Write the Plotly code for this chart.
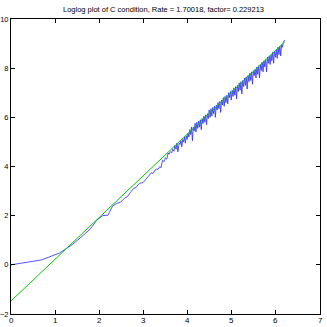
import plotly.graph_objects as go

# fitted line (green): two end points
fit_x = [0.0, 6.2]
fit_y = [-1.47, 9.07]

blue_x = [0.0, 0.693, 1.099, 1.386, 1.609, 1.792, 1.946, 2.079, 2.197, 2.303,
          2.398, 2.485, 2.565, 2.639, 2.708, 2.773, 2.833, 2.890, 2.944, 2.996,
          3.04, 3.09, 3.14, 3.18, 3.22, 3.26, 3.30, 3.33, 3.37, 3.40,
          3.43, 3.47, 3.50, 3.53, 3.56, 3.58, 3.61, 3.64, 3.66, 3.69,
          3.71, 3.74, 3.76, 3.78, 3.81, 3.83, 3.85, 3.87, 3.89, 3.91,
          3.93, 3.95, 3.97, 3.99,
          4.01, 4.03, 4.05, 4.07, 4.09, 4.11, 4.13, 4.15, 4.17, 4.19,
          4.21, 4.23, 4.25, 4.27, 4.29, 4.31, 4.33, 4.35, 4.37, 4.39,
          4.41, 4.43, 4.45, 4.47, 4.49, 4.51, 4.53, 4.55, 4.57, 4.59,
          4.61, 4.63, 4.65, 4.67, 4.69, 4.71, 4.73, 4.75, 4.77, 4.79,
          4.81, 4.83, 4.85, 4.87, 4.89, 4.91, 4.93, 4.95, 4.97, 4.99,
          5.01, 5.03, 5.05, 5.07, 5.09, 5.11, 5.13, 5.15, 5.17, 5.19,
          5.21, 5.23, 5.25, 5.27, 5.29, 5.31, 5.33, 5.35, 5.37, 5.39,
          5.41, 5.43, 5.45, 5.47, 5.49, 5.51, 5.53, 5.55, 5.57, 5.59,
          5.61, 5.63, 5.65, 5.67, 5.69, 5.71, 5.73, 5.75, 5.77, 5.79,
          5.81, 5.83, 5.85, 5.87, 5.89, 5.91, 5.93, 5.95, 5.97, 5.99,
          6.01, 6.03, 6.05, 6.07, 6.09, 6.11, 6.13, 6.15, 6.17, 6.19, 6.20]
blue_y = [0.0, 0.2, 0.48, 0.82, 1.16, 1.45, 1.82, 2.0, 2.02, 2.4,
          2.5, 2.55, 2.7, 2.78, 2.95, 3.1, 3.15, 3.28, 3.33, 3.35,
          3.45, 3.55, 3.65, 3.75, 3.72, 3.85, 3.9, 3.88, 4.0, 3.95,
          4.25, 4.2, 4.35, 4.3, 4.55, 4.5, 4.6, 4.55, 4.7, 4.62,
          4.85, 4.7, 4.95, 4.6, 4.95, 4.9, 5.05, 4.8, 5.1, 5.0,
          5.2, 4.95, 5.25, 5.1,
          5.35, 5.2, 5.5, 5.3, 5.6, 5.05, 5.6, 5.45, 5.75, 5.4,
          5.8, 5.55, 5.85, 5.6, 5.9, 5.5, 5.95, 5.75, 6.05, 5.8,
          6.1, 5.7, 6.15, 5.95, 6.3, 6.0, 6.35, 6.05, 6.4, 6.15,
          6.45, 6.0, 6.5, 6.3, 6.6, 6.35, 6.65, 6.2, 6.7, 6.5,
          6.8, 6.45, 6.85, 6.6, 6.9, 6.55, 7.0, 6.8, 7.05, 6.7,
          7.1, 6.85, 7.2, 6.9, 7.25, 6.75, 7.3, 7.05, 7.4, 7.1,
          7.45, 6.95, 7.5, 7.25, 7.6, 7.3, 7.65, 7.15, 7.7, 7.45,
          7.8, 7.5, 7.85, 7.35, 7.9, 7.7, 7.95, 7.6, 8.05, 7.75,
          8.1, 7.6, 8.15, 7.9, 8.25, 7.85, 8.3, 8.05, 8.35, 7.85,
          8.45, 8.2, 8.5, 8.15, 8.55, 8.3, 8.65, 8.2, 8.7, 8.45,
          8.75, 8.4, 8.85, 8.55, 8.9, 8.5, 8.95, 8.85, 9.05, 9.1, 9.15]

x_ticks = [0, 1, 2, 3, 4, 5, 6, 7]
y_ticks = [-2, 0, 2, 4, 6, 8, 10]

title_text = "Loglog plot of C condition, Rate = 1.70018, factor= 0.229213"

fig = go.Figure()
fig.add_trace(go.Scatter(x=blue_x, y=blue_y, mode="lines",
                         line=dict(color="rgb(40,40,255)", width=0.8)))
fig.add_trace(go.Scatter(x=fit_x, y=fit_y, mode="lines",
                         line=dict(color="rgb(0,200,0)", width=1)))

tick_font = dict(family="Liberation Sans", size=8, color="black")
axis_style = dict(showgrid=False, zeroline=False, showline=True,
                  linecolor="black", linewidth=1, mirror="ticks",
                  ticks="inside", ticklen=4, tickcolor="black", automargin=False)

# x tick labels as annotations so they sit just under the axis without eating margin
for v in x_ticks:
    fig.add_annotation(x=v, xref="x", y=0, yref="paper", yanchor="top",
                       text=str(v), showarrow=False, font=tick_font,
                       yshift=-1, borderpad=0)

fig.update_layout(
    width=327, height=327,
    margin=dict(l=11, r=7, t=19, b=13),
    paper_bgcolor="white", plot_bgcolor="white",
    showlegend=False,
    title=dict(text=title_text, x=0.5, xanchor="center", y=0.97, yanchor="middle",
               font=dict(family="Liberation Sans", size=7.5, color="black")),
    xaxis=dict(range=[0, 7], tickvals=x_ticks, showticklabels=False, **axis_style),
    yaxis=dict(range=[-2, 10], tickvals=y_ticks, ticklabelstandoff=0,
               tickfont=dict(family="Liberation Sans", size=7.5, color="black"),
               **axis_style),
)

# the page body has a default 8px margin; drop it so the figure fills the window
fig.write_html("out.html", config={"displayModeBar": False},
               post_script="document.body.style.margin='0';")
